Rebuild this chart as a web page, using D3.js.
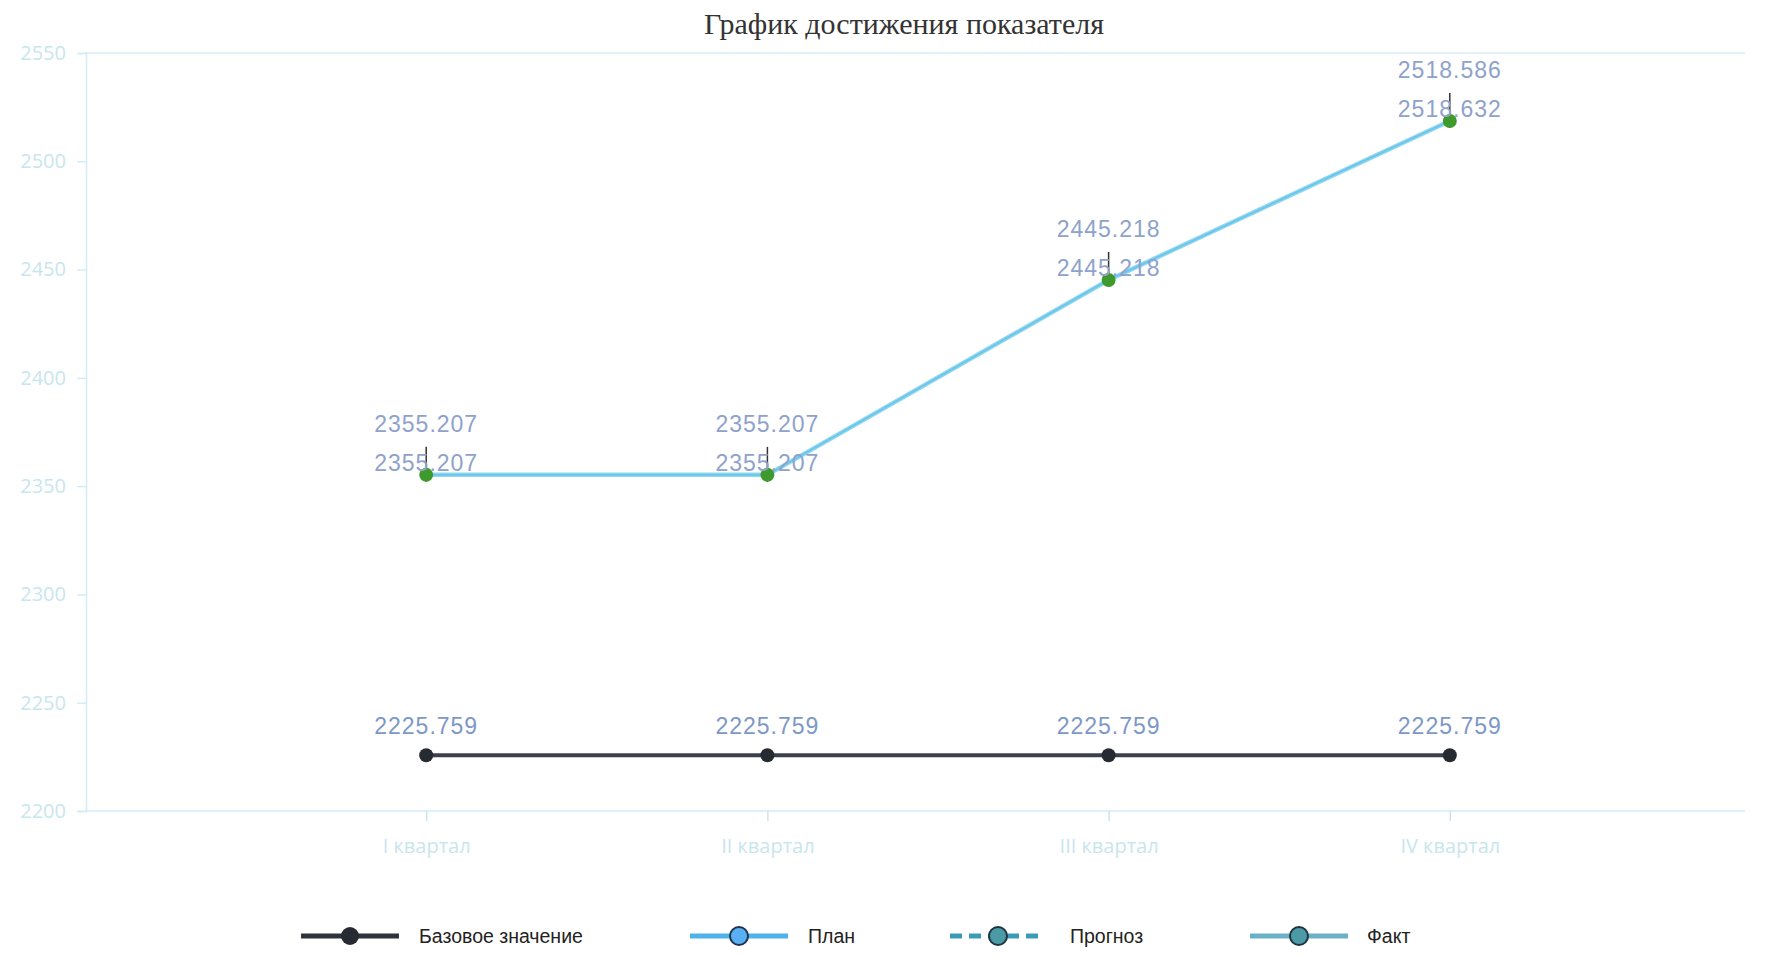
<!DOCTYPE html>
<html><head><meta charset="utf-8">
<script src="https://cdn.jsdelivr.net/npm/d3@7"></script>
<style>body{margin:0;background:#fff}svg{display:block}</style>
</head><body><svg id="c" width="1777" height="957"></svg>
<script>
const title = "График достижения показателя";
const categories = ["I квартал","II квартал","III квартал","IV квартал"];
const baseValues = [2225.759, 2225.759, 2225.759, 2225.759];
const planValues = [2355.207, 2355.207, 2445.218, 2518.586];
const factValues = [2355.207, 2355.207, 2445.218, 2518.632];
const yTicks = [2200, 2250, 2300, 2350, 2400, 2450, 2500, 2550];
const legendItems = ["Базовое значение","План","Прогноз","Факт"];

const svg = d3.select("#c");
const x = d3.scalePoint().domain(categories).range([85, 1791]).padding(1);
const y = d3.scaleLinear().domain([2200, 2550]).range([811, 53]);

svg.append("text").attr("x", 904).attr("y", 34).attr("text-anchor","middle")
  .attr("font-family","Liberation Serif, Times New Roman, serif").attr("font-size", 30)
  .attr("fill","#333").text(title);

// top gridline
svg.append("line").attr("x1",85).attr("x2",1745).attr("y1",y(2550)).attr("y2",y(2550))
  .attr("stroke","#d6eef4").attr("stroke-width",1.5);

// y axis
const ya = svg.append("g").attr("transform","translate(86,0)")
  .call(d3.axisLeft(y).tickValues(yTicks).tickSize(9).tickPadding(11).tickFormat(d3.format("d")));
ya.selectAll("path,line").attr("stroke","#d3ecf3").attr("stroke-width",1.5);
ya.selectAll("text").attr("fill","#c8e6ee").attr("font-size",20).attr("font-family","Open Sans, sans-serif");

// x axis
const xa = svg.append("g").attr("transform","translate(0,"+y(2200)+")")
  .call(d3.axisBottom(x).tickSize(10).tickPadding(18));
xa.select("path").attr("d","M86,0H1745").attr("stroke","#d3ecf3").attr("stroke-width",1.5);
xa.selectAll("line").attr("stroke","#c8e6ef").attr("stroke-width",1.5);
xa.selectAll("text").attr("fill","#c8e6ee").attr("font-size",20).attr("font-family","Open Sans, sans-serif");

const idx = d3.range(categories.length);
const line = arr => d3.line().x(i => x(categories[i])).y(i => y(arr[i]))(idx);

// base line
svg.append("path").attr("d", line(baseValues)).attr("fill","none")
  .attr("stroke","#3b404b").attr("stroke-width",4);
svg.selectAll(".bp").data(idx).join("circle").attr("cx",i=>x(categories[i])).attr("cy",i=>y(baseValues[i]))
  .attr("r",7).attr("fill","#262a31");

// plan / fact lines
svg.append("path").attr("d", line(planValues)).attr("fill","none")
  .attr("stroke","#93d8f1").attr("stroke-width",4.5);
svg.append("path").attr("d", line(factValues)).attr("fill","none")
  .attr("stroke","#6cc6ea").attr("stroke-width",2);

// fact tick marks and points
svg.selectAll(".ft").data(idx).join("line")
  .attr("x1",i=>x(categories[i])).attr("x2",i=>x(categories[i]))
  .attr("y1",i=>y(factValues[i])+7).attr("y2",i=>y(factValues[i])-28)
  .attr("stroke","#333").attr("stroke-width",1.5);
svg.selectAll(".fp").data(idx).join("circle").attr("cx",i=>x(categories[i])).attr("cy",i=>y(factValues[i]))
  .attr("r",7).attr("fill","#3f9a2e");

const lblFont = "Liberation Sans, Arial, sans-serif";
function labels(arr, dy, col){
  svg.append("g").selectAll("text").data(idx).join("text")
    .attr("x",i=>x(categories[i])).attr("y",i=>y(arr[i])+dy)
    .attr("text-anchor","middle").attr("font-family",lblFont).attr("font-size",23)
    .attr("letter-spacing",1).attr("fill",col).text(i=>d3.format(".3f")(arr[i]));
}
labels(baseValues, -21, "#7d98c6");
labels(planValues, -43, "#8ea2cb");
labels(factValues, -4, "#8ea2cb");

// legend
const lx = [350, 739, 998, 1299];
const lg = svg.append("g");
const ly = 936;
// base
lg.append("line").attr("x1",lx[0]-49).attr("x2",lx[0]+49).attr("y1",ly).attr("y2",ly).attr("stroke","#2f333b").attr("stroke-width",5);
lg.append("circle").attr("cx",lx[0]).attr("cy",ly).attr("r",9).attr("fill","#262a31");
// plan
lg.append("line").attr("x1",lx[1]-49).attr("x2",lx[1]+49).attr("y1",ly).attr("y2",ly).attr("stroke","#4fb3ea").attr("stroke-width",5);
lg.append("circle").attr("cx",lx[1]).attr("cy",ly).attr("r",9).attr("fill","#5aaef2").attr("stroke","#1d3550").attr("stroke-width",2);
// forecast
lg.append("line").attr("x1",lx[2]-48).attr("x2",lx[2]+42).attr("y1",ly).attr("y2",ly).attr("stroke","#3b9bb3").attr("stroke-width",5).attr("stroke-dasharray","12,7");
lg.append("circle").attr("cx",lx[2]).attr("cy",ly).attr("r",9).attr("fill","#4b9aa6").attr("stroke","#1d3540").attr("stroke-width",2);
// fact
lg.append("line").attr("x1",lx[3]-49).attr("x2",lx[3]+49).attr("y1",ly).attr("y2",ly).attr("stroke","#6cb0c6").attr("stroke-width",5);
lg.append("circle").attr("cx",lx[3]).attr("cy",ly).attr("r",9).attr("fill","#4b9aa6").attr("stroke","#1d3540").attr("stroke-width",2);
const ltx = [419, 808, 1070, 1367];
lg.selectAll("text").data(legendItems).join("text")
  .attr("x",(d,i)=>ltx[i]).attr("y",ly+7).attr("font-family","Liberation Sans, Arial, sans-serif")
  .attr("font-size",19.5).attr("fill","#222").text(d=>d);
</script></body></html>
